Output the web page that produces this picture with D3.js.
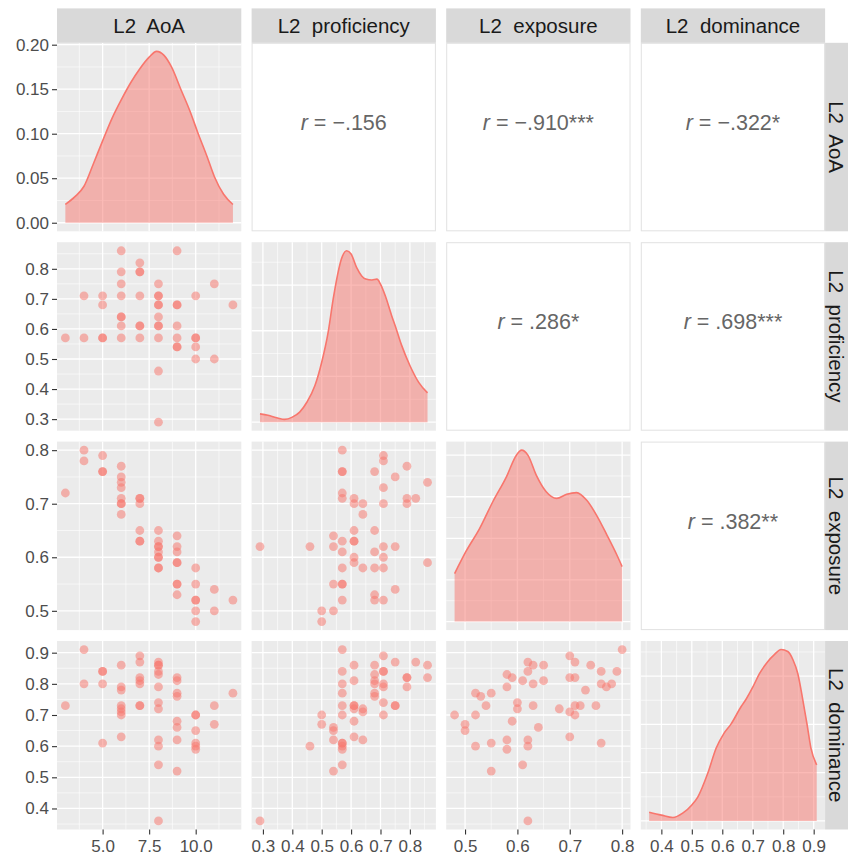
<!DOCTYPE html>
<html><head><meta charset="utf-8">
<script src="https://cdn.jsdelivr.net/npm/d3@7"></script>
<style>
body{margin:0;background:#fff}
svg text{font-family:"Liberation Sans",Arial,Helvetica,sans-serif}
</style>
</head><body>
<svg id="c" width="848" height="861"></svg>
<script>
// ---------- DATA ----------
const varNames = ["L2  AoA", "L2  proficiency", "L2  exposure", "L2  dominance"];

// tick labels
const aoaTicks = [5, 7.5, 10];
const profTicks = [0.3, 0.4, 0.5, 0.6, 0.7, 0.8];
const expTicks = [0.5, 0.6, 0.7, 0.8];
const domTicks = [0.4, 0.5, 0.6, 0.7, 0.8, 0.9];
const densTicks = [0, 0.05, 0.10, 0.15, 0.20];

// correlations (upper panels): [row, col, value text, stars]
const corrCells = [
  [0, 1, "\u2212.156", ""],
  [0, 2, "\u2212.910", "***"],
  [0, 3, "\u2212.322", "*"],
  [1, 2, ".286", "*"],
  [1, 3, ".698", "***"],
  [2, 3, ".382", "**"]
];

// scatter panels [x, y]
const aoaProf = [[6,.86],[9,.86],[7,.82],[6,.79],[7,.79],[7,.79],[6,.75],[8,.75],[11,.75],[4,.71],[5,.71],[6,.71],[7,.71],[8,.71],[8,.71],[10,.71],[5,.68],[8,.68],[8,.68],[9,.68],[9,.68],[12,.68],[6,.64],[6,.64],[8,.64],[6,.61],[7,.61],[7,.61],[8,.61],[8,.61],[9,.61],[3,.57],[4,.57],[5,.57],[5,.57],[6,.57],[7,.57],[8,.57],[9,.57],[10,.57],[10,.57],[9,.54],[9,.54],[10,.54],[10,.50],[11,.50],[8,.46],[8,.29]];

const aoaExp = [[3,.72],[4,.80],[4,.78],[5,.79],[5,.76],[5,.76],[6,.77],[6,.75],[6,.74],[6,.73],[6,.71],[6,.70],[6,.70],[6,.68],[7,.71],[7,.71],[7,.70],[7,.65],[7,.63],[7,.63],[8,.65],[8,.63],[8,.62],[8,.62],[8,.61],[8,.60],[8,.60],[8,.58],[8,.58],[9,.64],[9,.62],[9,.61],[9,.59],[9,.59],[9,.55],[9,.55],[9,.53],[10,.58],[10,.55],[10,.52],[10,.52],[10,.50],[10,.48],[11,.54],[11,.50],[12,.52]];

const profExp = [[.57,.80],[.71,.79],[.71,.78],[.57,.76],[.57,.76],[.68,.76],[.79,.77],[.75,.75],[.86,.74],[.71,.73],[.57,.72],[.57,.71],[.61,.71],[.61,.70],[.64,.70],[.71,.70],[.79,.71],[.79,.70],[.82,.71],[.64,.68],[.61,.65],[.68,.65],[.54,.64],[.29,.62],[.46,.62],[.54,.62],[.57,.63],[.61,.63],[.61,.63],[.57,.61],[.68,.61],[.71,.62],[.75,.62],[.61,.60],[.61,.59],[.71,.60],[.86,.59],[.57,.58],[.64,.58],[.68,.58],[.71,.58],[.54,.55],[.57,.55],[.57,.55],[.75,.54],[.68,.53],[.68,.52],[.71,.52],[.57,.52],[.50,.50],[.54,.50],[.50,.48]];

const aoaDom = [[3,.73],[4,.91],[4,.80],[5,.84],[5,.84],[5,.80],[5,.61],[6,.86],[6,.79],[6,.78],[6,.73],[6,.72],[6,.71],[6,.70],[6,.63],[7,.89],[7,.87],[7,.82],[7,.81],[7,.80],[7,.73],[7,.73],[8,.87],[8,.86],[8,.86],[8,.84],[8,.83],[8,.79],[8,.74],[8,.72],[8,.62],[8,.60],[8,.54],[8,.36],[9,.82],[9,.81],[9,.77],[9,.76],[9,.68],[9,.66],[9,.62],[9,.52],[10,.70],[10,.70],[10,.65],[10,.61],[10,.60],[10,.59],[11,.73],[11,.67],[12,.77]];

const profDom = [[.57,.91],[.71,.89],[.75,.87],[.82,.87],[.86,.86],[.61,.86],[.68,.86],[.57,.84],[.71,.84],[.71,.84],[.68,.83],[.86,.82],[.79,.82],[.79,.82],[.61,.81],[.68,.81],[.68,.80],[.71,.80],[.57,.80],[.71,.79],[.79,.79],[.57,.77],[.68,.77],[.68,.76],[.71,.74],[.75,.73],[.75,.73],[.57,.73],[.61,.73],[.61,.73],[.61,.72],[.64,.72],[.64,.71],[.57,.70],[.71,.70],[.50,.70],[.50,.67],[.61,.68],[.54,.66],[.54,.65],[.61,.63],[.54,.62],[.64,.62],[.57,.61],[.57,.61],[.57,.60],[.57,.59],[.46,.60],[.57,.54],[.54,.52],[.29,.36]];

const expDom = [[.48,.70],[.50,.67],[.50,.65],[.52,.77],[.52,.70],[.52,.60],[.53,.76],[.54,.73],[.55,.77],[.55,.61],[.55,.52],[.58,.83],[.58,.79],[.58,.62],[.58,.59],[.59,.82],[.59,.68],[.60,.74],[.60,.72],[.61,.81],[.61,.54],[.62,.87],[.62,.84],[.62,.62],[.62,.60],[.62,.36],[.63,.86],[.63,.80],[.63,.73],[.64,.66],[.65,.86],[.65,.81],[.68,.72],[.70,.89],[.70,.82],[.70,.71],[.70,.63],[.71,.87],[.71,.82],[.71,.73],[.71,.70],[.72,.73],[.73,.78],[.74,.86],[.75,.73],[.76,.84],[.76,.80],[.76,.61],[.77,.79],[.78,.80],[.79,.84],[.80,.91]];

// density curves (diagonal)
const aoaDensX = [3,3.5,4,4.5,5,5.5,6,6.5,7,7.5,7.9,8.3,8.7,9.2,9.7,10.1,10.6,11,11.5,12];
const aoaDensY = [0.0205,0.029,0.041,0.066,0.092,0.117,0.138,0.157,0.173,0.186,0.1925,0.188,0.175,0.150,0.125,0.102,0.075,0.052,0.032,0.0205];
const profDensX = [0.29,0.317,0.35,0.374,0.40,0.425,0.45,0.477,0.50,0.522,0.539,0.549,0.567,0.585,0.60,0.619,0.636,0.65,0.671,0.688,0.70,0.716,0.738,0.75,0.772,0.80,0.83,0.86];
const profDensY = [0.18,0.15,0.09,0.06,0.11,0.22,0.44,0.80,1.31,1.97,2.69,3.06,3.57,3.75,3.68,3.38,3.20,3.13,3.11,3.13,3.02,2.77,2.33,2.11,1.68,1.24,0.87,0.64];
const expDensX = [0.48,0.502,0.528,0.553,0.579,0.598,0.608,0.62,0.636,0.655,0.675,0.694,0.713,0.732,0.751,0.771,0.79,0.80];
const expDensY = [1.15,1.69,2.24,2.88,3.48,4.00,4.12,4.00,3.52,3.12,2.96,3.06,3.10,2.92,2.56,2.08,1.60,1.32];
const domDensX = [0.36,0.40,0.438,0.47,0.50,0.52,0.553,0.58,0.605,0.629,0.662,0.678,0.70,0.722,0.749,0.77,0.793,0.815,0.832,0.848,0.864,0.878,0.891,0.91];
const domDensY = [0.18,0.12,0.07,0.16,0.33,0.50,1.00,1.51,1.81,2.01,2.37,2.52,2.77,3.05,3.30,3.44,3.55,3.51,3.34,3.05,2.52,2.01,1.51,1.16];

// ---------- LAYOUT ----------
const colX0 = 57, colStep = 194.6, panelW = 184.3;
const rowY0 = 42.8, rowStep = 199.4, panelH = 188.5;
const stripH = 34.4;
const colX = i => colX0 + i * colStep;
const rowY = i => rowY0 + i * rowStep;
const RED = "#F8766D";
const STRIP_FS = 20.5, TICK_FS = 17, CORR_FS = 21.5;

const svg = d3.select("#c");
const expand = ([a, b]) => { const r = b - a; return [a - 0.05 * r, b + 0.05 * r]; };

const scatter = {"1,0": aoaProf, "2,0": aoaExp, "2,1": profExp, "3,0": aoaDom, "3,1": profDom, "3,2": expDom};
const dens = [[aoaDensX, aoaDensY], [profDensX, profDensY], [expDensX, expDensY], [domDensX, domDensY]];
const varTicks = [aoaTicks, profTicks, expTicks, domTicks];

const extents = [
  d3.extent(aoaProf, d => d[0]),
  d3.extent(aoaProf, d => d[1]),
  d3.extent(aoaExp, d => d[1]),
  d3.extent(aoaDom, d => d[1])
];
const xS = extents.map((e, i) => d3.scaleLinear().domain(expand(e)).range([colX(i), colX(i) + panelW]));
const yS = extents.map((e, i) => d3.scaleLinear().domain(expand(e)).range([rowY(i) + panelH, rowY(i)]));
const dS = dens.map(([xs, ys], i) => d3.scaleLinear().domain(expand([0, d3.max(ys)])).range([rowY(i) + panelH, rowY(i)]));

function minors(ticks, dom) {
  const step = ticks[1] - ticks[0];
  const out = [];
  for (let k = -1; k < ticks.length; k++) {
    const v = ticks[0] + (k + 0.5) * step;
    if (v >= dom[0] && v <= dom[1]) out.push(v);
  }
  return out;
}

const defs = svg.append("defs");

for (let r = 0; r < 4; r++) {
  for (let c = 0; c < 4; c++) {
    const x0 = colX(c), y0 = rowY(r);
    const g = svg.append("g");
    if (r < c) {
      g.append("rect").attr("x", x0 + 0.5).attr("y", y0 + 0.5).attr("width", panelW - 1).attr("height", panelH - 1)
        .attr("fill", "#fff").attr("stroke", "#E2E2E2").attr("stroke-width", 1);
      continue;
    }
    g.append("rect").attr("x", x0).attr("y", y0).attr("width", panelW).attr("height", panelH).attr("fill", "#EBEBEB");
    const xs = xS[c];
    const ys = r === c ? dS[r] : yS[r];
    const xt = varTicks[c];
    const yt = r === c ? (r === 0 ? densTicks : ys.ticks(4)) : varTicks[r];
    minors(xt, xs.domain()).forEach(v => g.append("line").attr("x1", xs(v)).attr("x2", xs(v)).attr("y1", y0).attr("y2", y0 + panelH).attr("stroke", "#fff").attr("stroke-width", 0.6));
    minors(yt, ys.domain()).forEach(v => g.append("line").attr("y1", ys(v)).attr("y2", ys(v)).attr("x1", x0).attr("x2", x0 + panelW).attr("stroke", "#fff").attr("stroke-width", 0.6));
    xt.forEach(v => g.append("line").attr("x1", xs(v)).attr("x2", xs(v)).attr("y1", y0).attr("y2", y0 + panelH).attr("stroke", "#fff").attr("stroke-width", 1.3));
    yt.forEach(v => g.append("line").attr("y1", ys(v)).attr("y2", ys(v)).attr("x1", x0).attr("x2", x0 + panelW).attr("stroke", "#fff").attr("stroke-width", 1.3));

    const clipId = `clip${r}${c}`;
    defs.append("clipPath").attr("id", clipId).append("rect").attr("x", x0).attr("y", y0).attr("width", panelW).attr("height", panelH);
    const dg = g.append("g").attr("clip-path", `url(#${clipId})`);

    if (r === c) {
      const [dx, dy] = dens[r];
      const pts = dx.map((v, k) => [v, dy[k]]);
      const area = d3.area().x(d => xs(d[0])).y0(ys(0)).y1(d => ys(d[1])).curve(d3.curveMonotoneX);
      const line = d3.line().x(d => xs(d[0])).y(d => ys(d[1])).curve(d3.curveMonotoneX);
      dg.append("path").attr("d", area(pts)).attr("fill", RED).attr("fill-opacity", 0.5);
      dg.append("path").attr("d", line(pts)).attr("fill", "none").attr("stroke", RED).attr("stroke-width", 1.6);
    } else {
      dg.selectAll("circle").data(scatter[`${r},${c}`]).join("circle")
        .attr("cx", d => xs(d[0])).attr("cy", d => ys(d[1])).attr("r", 4.4)
        .attr("fill", RED).attr("fill-opacity", 0.52);
    }
  }
}

// correlation text
corrCells.forEach(([r, c, val, stars]) => {
  const cx = colX(c) + panelW / 2, cy = rowY(r) + panelH / 2 - 7;
  const t = svg.append("text").attr("x", cx).attr("y", cy).attr("text-anchor", "middle")
    .attr("font-size", CORR_FS).attr("fill", "#666666");
  t.append("tspan").attr("font-style", "italic").text("r");
  t.append("tspan").text(" = " + val + stars);
});

// strips
varNames.forEach((name, i) => {
  svg.append("rect").attr("x", colX(i)).attr("y", rowY0 - stripH).attr("width", panelW).attr("height", stripH).attr("fill", "#D9D9D9");
  svg.append("text").attr("x", colX(i) + panelW / 2).attr("y", rowY0 - stripH / 2 + 0.36 * STRIP_FS)
    .attr("text-anchor", "middle").attr("font-size", STRIP_FS).attr("fill", "#1A1A1A")
    .style("white-space", "pre").text(name);
  const sx = colX(3) + panelW;
  svg.append("rect").attr("x", sx).attr("y", rowY(i)).attr("width", stripH).attr("height", panelH).attr("fill", "#D9D9D9");
  svg.append("text").attr("transform", `translate(${sx + 4.3},${rowY(i) + panelH / 2}) rotate(90)`)
    .attr("text-anchor", "middle").attr("font-size", STRIP_FS).attr("fill", "#1A1A1A")
    .style("white-space", "pre").text(name);
});

// axes
function styleAxis(g) {
  g.select(".domain").remove();
  g.selectAll(".tick line").attr("stroke", "#333333").attr("stroke-width", 1.1);
  g.selectAll(".tick text").attr("fill", "#4D4D4D").attr("font-size", TICK_FS).attr("font-family", "Liberation Sans, Arial, sans-serif");
}
const leftScales = [dS[0], yS[1], yS[2], yS[3]];
const leftTicks = [densTicks, profTicks, expTicks, domTicks];
const leftFmt = [d3.format(".2f"), d3.format(".1f"), d3.format(".1f"), d3.format(".1f")];
leftScales.forEach((s, i) => {
  svg.append("g").attr("transform", `translate(${colX0},0)`)
    .call(d3.axisLeft(s).tickValues(leftTicks[i]).tickFormat(leftFmt[i]).tickSize(5).tickPadding(3))
    .call(styleAxis);
});
const bottomY = rowY(3) + panelH;
xS.forEach((s, i) => {
  svg.append("g").attr("transform", `translate(0,${bottomY})`)
    .call(d3.axisBottom(s).tickValues(varTicks[i]).tickFormat(d3.format(".1f")).tickSize(5).tickPadding(5))
    .call(styleAxis);
});
</script>
</body></html>
